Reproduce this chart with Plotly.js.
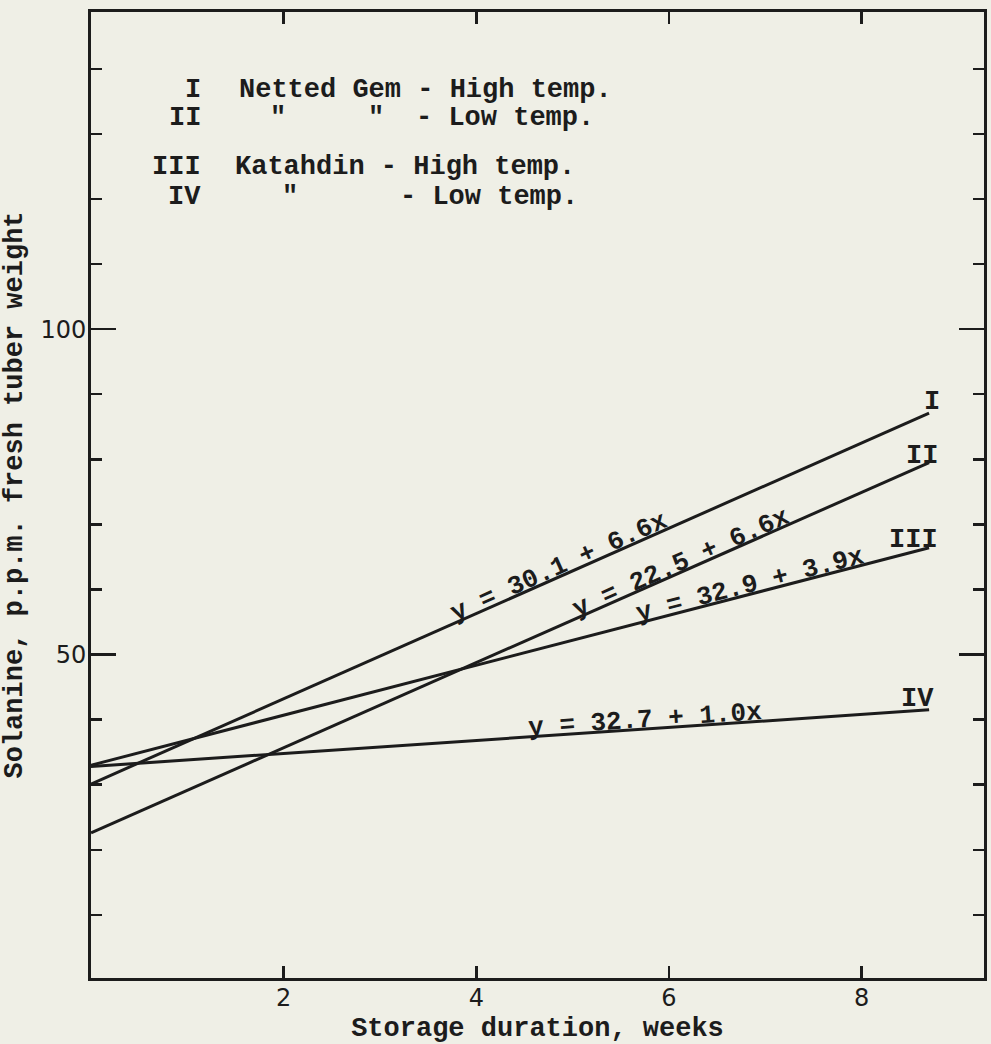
<!DOCTYPE html>
<html>
<head>
<meta charset="utf-8">
<script src="https://cdn.plot.ly/plotly-3.0.1.min.js"></script>
<style>
  html, body { margin: 0; padding: 0; background: #efefe6; }
  #chart { width: 991px; height: 1044px; }
</style>
</head>
<body>
<div id="chart"></div>
<script>
// ---- data ----
const weeks = [0, 8.7];
const lineI   = [30.1, 87.1];   // Netted Gem - High temp.
const lineII  = [22.6, 79.5];   // Netted Gem - Low temp.
const lineIII = [33.0, 66.4];   // Katahdin - High temp.
const lineIV  = [32.8, 41.5];   // Katahdin - Low temp.
const seriesNames = ['I', 'II', 'III', 'IV'];
const equations = ['y = 30.1 + 6.6x', 'y = 22.5 + 6.6x', 'y = 32.9 + 3.9x', 'y = 32.7 + 1.0x'];
const xTickVals = [2, 4, 6, 8];
const xTickText = ['2', '4', '6', '8'];

// ---- style ----
const INK = '#1c1c1c';
const BG = '#efefe6';
const TYPE = 'Liberation Mono, DejaVu Sans Mono, monospace';
const LETTER = 'DejaVu Sans, sans-serif';
const L = 91, R = 7, T = 12, B = 66, W = 991, H = 1044;
const fx = p => (p - L) / (W - L - R);
const fy = p => ((H - B) - p) / (H - T - B);

const series = [lineI, lineII, lineIII, lineIV];
const traces = series.map((ys, i) => ({
  type: 'scatter', mode: 'lines', x: weeks, y: ys, name: seriesNames[i],
  line: { color: INK, width: 3 }, hoverinfo: 'x+y+name', showlegend: false
}));

function typed(text, px, py, xanchor, size) {
  return {
    xref: 'paper', yref: 'paper', x: fx(px), y: fy(py), text: text,
    xanchor: xanchor, yanchor: 'middle', showarrow: false,
    font: { family: TYPE, size: size || 27, color: INK, weight: 'bold' }
  };
}

const annotations = [
  // key in the upper left
  typed('I', 203, 90, 'right'),
  typed('Netted Gem - High temp.', 237, 90, 'left'),
  typed('II', 203, 118, 'right'),
  typed('"', 278, 118, 'center'),
  typed('"', 376, 118, 'center'),
  typed('- Low temp.', 414, 118, 'left'),
  typed('III', 203, 167, 'right'),
  typed('Katahdin - High temp.', 233, 167, 'left'),
  typed('IV', 203, 197, 'right'),
  typed('"', 290, 197, 'center'),
  typed('- Low temp.', 398, 197, 'left'),
  // line end labels
  typed(seriesNames[0], 932, 402, 'center'),
  typed(seriesNames[1], 922, 456, 'center'),
  typed(seriesNames[2], 913, 540, 'center'),
  typed(seriesNames[3], 917, 699, 'center'),
];
// regression equations along the lines
const eqPos = [[559, 567, -24], [681, 563, -24], [750, 585, -14.5], [645, 720, -3.9]];
equations.forEach((t, i) => {
  const a = typed(t, eqPos[i][0], eqPos[i][1], 'center', 26);
  a.textangle = eqPos[i][2];
  annotations.push(a);
});

const layout = {
  width: W, height: H,
  margin: { l: L, r: R, t: T, b: B },
  paper_bgcolor: BG, plot_bgcolor: BG,
  showlegend: false,
  xaxis: {
    range: [0, 9.27], tickmode: 'array', tickvals: xTickVals, ticktext: xTickText,
    ticks: 'inside', ticklen: 12, tickwidth: 2.5, tickcolor: INK,
    showline: true, linewidth: 3, linecolor: INK, mirror: 'ticks',
    showgrid: false, zeroline: false, ticklabelstandoff: -4,
    tickfont: { family: LETTER, size: 24, color: INK },
    title: { text: 'Storage duration, weeks', standoff: 8,
      font: { family: TYPE, size: 27, color: INK, weight: 'bold' } }
  },
  yaxis: {
    range: [0.3, 148.73], tickmode: 'linear', tick0: 0, dtick: 50,
    ticks: 'inside', ticklen: 25, tickwidth: 2.5, tickcolor: INK,
    minor: { tick0: 0, dtick: 10, ticks: 'inside', ticklen: 11, tickwidth: 2.5, tickcolor: INK, showgrid: false },
    showline: true, linewidth: 3, linecolor: INK, mirror: 'ticks',
    showgrid: false, zeroline: false, ticklabelstandoff: -3,
    tickfont: { family: LETTER, size: 24, color: INK },
    title: { text: 'Solanine, p.p.m. fresh tuber weight', standoff: 14,
      font: { family: TYPE, size: 27, color: INK, weight: 'bold' } }
  },
  annotations: annotations
};

Plotly.newPlot('chart', traces, layout, { staticPlot: true, displayModeBar: false });
</script>
</body>
</html>
